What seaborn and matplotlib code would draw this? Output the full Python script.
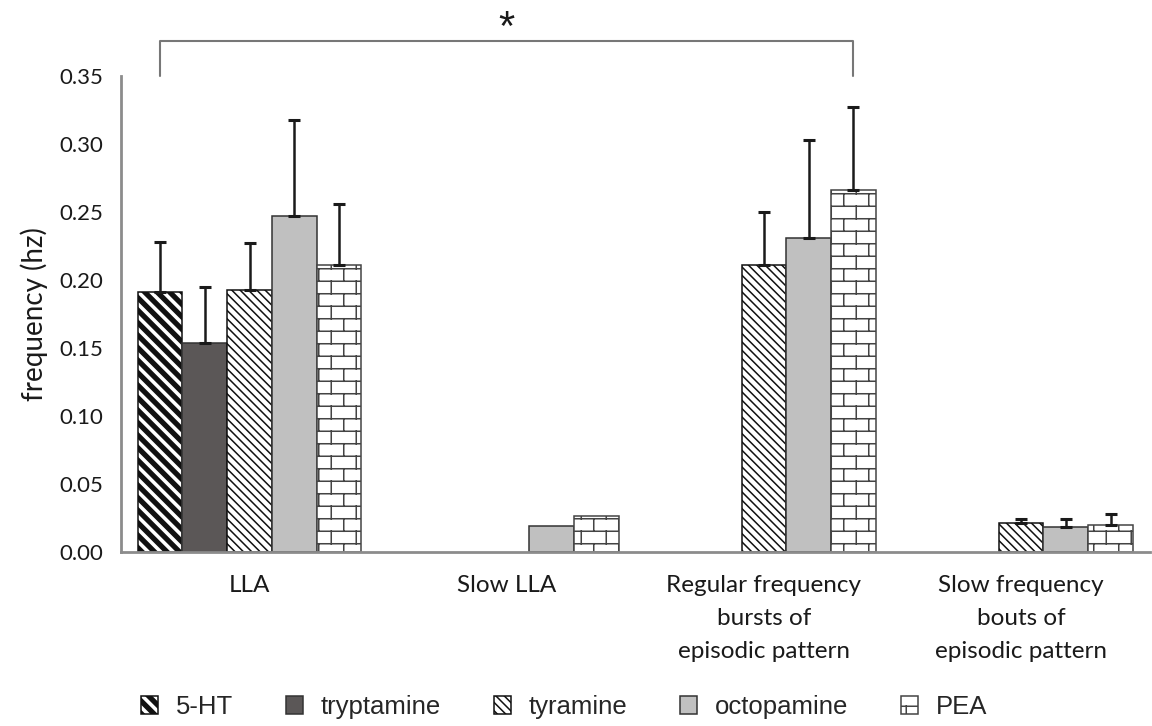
import numpy as np
import pandas as pd
import matplotlib
matplotlib.use("Agg")
import matplotlib.pyplot as plt
import matplotlib.hatch as mhatch
from matplotlib.path import Path
from matplotlib.patches import Patch
import seaborn as sns

# ---------------- data ----------------
categories = ["LLA", "Slow LLA",
              "Regular frequency\nbursts of\nepisodic pattern",
              "Slow frequency\nbouts of\nepisodic pattern"]
compounds = ["5-HT", "tryptamine", "tyramine", "octopamine", "PEA"]

mean_5ht = [0.191, np.nan, np.nan, np.nan]
mean_tryptamine = [0.154, np.nan, np.nan, np.nan]
mean_tyramine = [0.193, np.nan, 0.211, 0.021]
mean_octopamine = [0.247, 0.019, 0.231, 0.018]
mean_pea = [0.211, 0.026, 0.266, 0.020]

err_5ht = [0.037, np.nan, np.nan, np.nan]
err_tryptamine = [0.041, np.nan, np.nan, np.nan]
err_tyramine = [0.034, np.nan, 0.039, 0.003]
err_octopamine = [0.071, 0.0, 0.072, 0.006]
err_pea = [0.045, 0.0, 0.061, 0.008]

y_ticks = [0.00, 0.05, 0.10, 0.15, 0.20, 0.25, 0.30, 0.35]

# ---------------- custom hatches ----------------
class BrickHatch(mhatch.HatchPatternBase):
    rows = 8
    cols = 4
    def __init__(self, hatch, density):
        self.on = hatch.count("o") > 0
        n = self.rows * 2 + (self.rows + 1) * self.cols * 2
        self.num_vertices = n if self.on else 0

    def set_vertices_and_codes(self, vertices, codes):
        k = 0
        for i in range(self.rows):
            y = (i + 0.5) / self.rows
            vertices[k] = (0.0, y); vertices[k + 1] = (1.0, y)
            codes[k] = Path.MOVETO; codes[k + 1] = Path.LINETO
            k += 2
        for i in range(-1, self.rows):
            y0 = max(0.0, (i + 0.5) / self.rows)
            y1 = min(1.0, (i + 1.5) / self.rows)
            for j in range(self.cols):
                x = (j + 0.25 + 0.5 * (i % 2)) / self.cols
                vertices[k] = (x, y0); vertices[k + 1] = (x, y1)
                codes[k] = Path.MOVETO; codes[k + 1] = Path.LINETO
                k += 2


class ThickStripes(mhatch.HatchPatternBase):
    filled = True
    n = 8
    def __init__(self, hatch, density):
        self.on = hatch.count("O") > 0
        self.num_vertices = (2 * self.n + 2) * 5 if self.on else 0

    def set_vertices_and_codes(self, vertices, codes):
        w = 0.42 / self.n
        k = 0
        for s in range(-1, 2 * self.n + 1):
            c = s / self.n
            pts = [(-1.0, c + 1.0), (2.0, c - 2.0), (2.0, c + w - 2.0), (-1.0, c + w + 1.0), (-1.0, c + 1.0)]
            for m, p in enumerate(pts):
                vertices[k + m] = p
            codes[k:k + 5] = [Path.MOVETO, Path.LINETO, Path.LINETO, Path.LINETO, Path.CLOSEPOLY]
            k += 5


for i, t in enumerate(mhatch._hatch_types):
    if t is mhatch.SmallCircles:
        mhatch._hatch_types[i] = BrickHatch
    elif t is mhatch.LargeCircles:
        mhatch._hatch_types[i] = ThickStripes

# ---------------- style ----------------
sns.set_style("white")
plt.rcParams["font.family"] = ["Lato", "DejaVu Sans"]
plt.rcParams["hatch.linewidth"] = 1.1

means = [mean_5ht, mean_tryptamine, mean_tyramine, mean_octopamine, mean_pea]
errs = [err_5ht, err_tryptamine, err_tyramine, err_octopamine, err_pea]

rows = []
for comp, mv in zip(compounds, means):
    for cat, v in zip(categories, mv):
        rows.append({"category": cat, "compound": comp, "frequency": v})
df = pd.DataFrame(rows)

face = {"5-HT": "white", "tryptamine": "#5b5757", "tyramine": "white",
        "octopamine": "#c0c0c0", "PEA": "white"}
hatches = {"5-HT": "O", "tryptamine": "", "tyramine": "\\\\\\\\", "octopamine": "", "PEA": "o"}
edge = {"5-HT": "#111111", "tryptamine": "#333333", "tyramine": "#111111",
        "octopamine": "#333333", "PEA": "#444444"}

fig = plt.figure(figsize=(11.52, 7.26), dpi=100)
ax = fig.add_axes([0.105, 0.240, 0.893, 0.655])

bar_width = 0.87
sns.barplot(data=df, x="category", y="frequency", hue="compound",
            order=categories, hue_order=compounds, palette=face,
            errorbar=None, width=bar_width, saturation=1, legend=False,
            edgecolor="#333333", linewidth=1.1, ax=ax)

nh = len(compounds)
step = bar_width / nh
centers = {}
ex, ey, ee = [], [], []
for p in ax.patches:
    h = p.get_height()
    if h is None or np.isnan(h):
        continue
    xc = p.get_x() + p.get_width() / 2
    ci = int(round(xc))
    hi = int(round((xc - ci + bar_width / 2) / step - 0.5))
    comp = compounds[hi]
    p.set_hatch(hatches[comp])
    p.set_edgecolor(edge[comp])
    centers[(hi, ci)] = xc
    e = errs[hi][ci]
    if e is not None and not np.isnan(e) and e > 0:
        ex.append(xc); ey.append(h); ee.append(e)

ax.errorbar(ex, ey, yerr=[np.zeros(len(ee)), ee], fmt="none", ecolor="#1a1a1a",
            elinewidth=1.8, capsize=4.3, capthick=2.2, zorder=5)

# axes styling
ax.set_xlim(-0.5, 3.5)
ax.set_ylim(0, 0.35)
ax.set_yticks(y_ticks)
ax.set_yticklabels([f"{v:.2f}" for v in y_ticks])
ax.set_xticks(range(len(categories)))
ax.set_xticklabels(categories, linespacing=1.7)
ax.set_xticks([0.5, 1.5, 2.5], minor=True)
ax.tick_params(axis="x", which="major", length=0, pad=17, labelsize=17.5, labelcolor="#1a1a1a")
ax.tick_params(axis="x", which="minor", length=6, width=1.5, color="#888888", direction="out")
ax.tick_params(axis="y", length=7, width=1.5, color="#888888", direction="out",
               labelsize=16, labelcolor="#1a1a1a", pad=6)
for s in ["top", "right"]:
    ax.spines[s].set_visible(False)
for s in ["left", "bottom"]:
    ax.spines[s].set_color("#8c8c8c")
    ax.spines[s].set_linewidth(2)
ax.set_xlabel("")
ax.set_ylabel("frequency (hz)", fontsize=20, color="#1a1a1a", labelpad=8)

# significance bracket
x0 = centers[(0, 0)]
x1 = centers[(4, 2)]
ax.plot([x0, x0, x1, x1], [0.350, 0.376, 0.376, 0.350], color="#777777", lw=1.5,
        clip_on=False, zorder=6)
ax.text((x0 + x1) / 2, 0.377, "*", ha="center", va="baseline", fontsize=30,
        family=["Liberation Sans"], color="#1a1a1a", clip_on=False)

# legend
handles = [Patch(facecolor=face[c], edgecolor=edge[c], hatch=hatches[c], linewidth=1.1)
           for c in compounds]
fig.legend(handles, compounds, loc="center", bbox_to_anchor=(0.490, 0.026), ncol=5,
           frameon=False, prop={"family": ["Liberation Sans"], "size": 18.5},
           handlelength=0.66, handleheight=0.66,
           handletextpad=0.7, columnspacing=2.05)

fig.savefig("out.png", dpi=100)
